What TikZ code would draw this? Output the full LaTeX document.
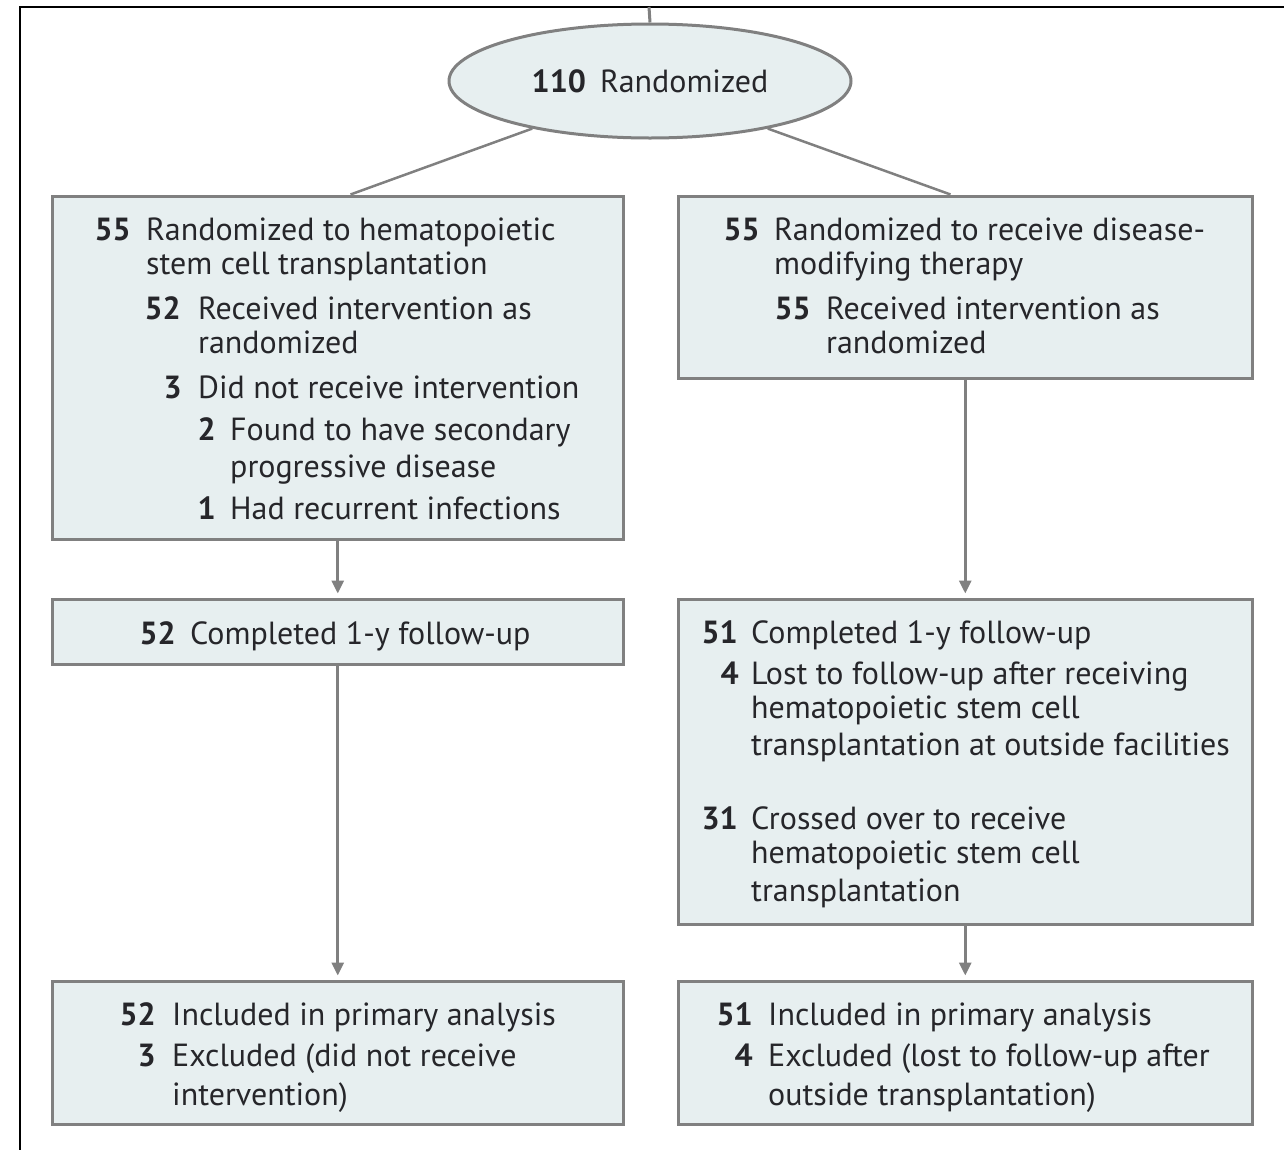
\documentclass[tikz,border=0pt]{standalone}
\usepackage{fontspec}
\setmainfont{PT Sans}
\usetikzlibrary{arrows.meta,shapes.geometric}
\definecolor{boxfill}{RGB}{231,239,240}
\definecolor{boxline}{RGB}{128,128,128}
\definecolor{inkc}{RGB}{38,38,42}
\tikzset{
  box/.style={draw=boxline, line width=3.5pt, fill=boxfill, anchor=north west, inner sep=0pt},
  conn/.style={draw=boxline, line width=3pt},
  arr/.style={conn, -{Triangle[width=12pt,length=13pt]}, shorten >=4pt},
  txt/.style={anchor=base west, inner sep=0pt, text=inkc, font=\fontsize{32}{34}\selectfont},
  num/.style={anchor=base east, inner sep=0pt, text=inkc, font=\fontsize{32}{34}\selectfont\bfseries},
}
\begin{document}
\begin{tikzpicture}[x=1pt,y=-1pt]
\useasboundingbox (0,0) rectangle (1284,1149);
% outer frame
\draw[line width=2.5pt] (20,1155) -- (20,7) -- (1290,7);
\coordinate (top) at (649,7);
% ellipse
\node[ellipse, draw=boxline, line width=3pt, fill=boxfill, minimum width=402pt, minimum height=114pt, inner sep=0pt, text=inkc, font=\fontsize{32}{34}\selectfont] (rand) at (650,81) {\textbf{110}\, Randomized};
% boxes
\node[box, minimum width=571pt, minimum height=343pt] (L1) at (50.5,194.5) {};
\node[box, minimum width=574pt, minimum height=182pt] (R1) at (676.5,194.5) {};
\node[box, minimum width=571pt, minimum height=65pt] (L2) at (50.5,597.5) {};
\node[box, minimum width=574pt, minimum height=325pt] (R2) at (676.5,597.5) {};
\node[box, minimum width=571pt, minimum height=143pt] (L3) at (50.5,979.5) {};
\node[box, minimum width=574pt, minimum height=143pt] (R3) at (676.5,979.5) {};
% connectors
\draw[conn] (top) -- (rand.north);
\draw[conn, line width=2.5pt] (rand.-158) -- ([xshift=300pt]L1.north west);
\draw[conn, line width=2.5pt] (rand.-22) -- ([xshift=274pt]R1.north west);
\draw[arr] (L1.south) -- (L2.north);
\draw[arr] (R1.south) -- (R2.north);
\draw[arr] (L2.south) -- (L3.north);
\draw[arr] (R2.south) -- (R3.north);
% L1 text
\node[num] (n1) at (131,240) {55};
\node[txt] (a1) at (146,240) {Randomized to hematopoietic};
\node[txt] (a2) at (146,274) {stem cell transplantation};
\node[num] (n2) at (181,319) {52};
\node[txt] (a3) at (198,319) {Received intervention as};
\node[txt] (a4) at (198,353) {randomized};
\node[num] (n3) at (182,398) {3};
\node[txt] (a5) at (198,398) {Did not receive intervention};
\node[num] (n4) at (216,440) {2};
\node[txt] (a6) at (230,440) {Found to have secondary};
\node[txt] (a7) at (230,477) {progressive disease};
\node[num] (n5) at (216,519) {1};
\node[txt] (a8) at (230,519) {Had recurrent infections};
% R1 text
\node[num] (n6) at (760,240) {55};
\node[txt] (b1) at (774,240) {Randomized to receive disease-};
\node[txt] (b2) at (774,274) {modifying therapy};
\node[num] (n7) at (811,319) {55};
\node[txt] (b3) at (826,319) {Received intervention as};
\node[txt] (b4) at (826,353) {randomized};
% L2 text
\node[num] (n8) at (176,644) {52};
\node[txt] (c1) at (190,644) {Completed 1-y follow-up};
% R2 text
\node[num] (n9) at (738,643) {51};
\node[txt] (d1) at (751,643) {Completed 1-y follow-up};
\node[num] (n10) at (739,684) {4};
\node[txt] (d2) at (751,684) {Lost to follow-up after receiving};
\node[txt] (d3) at (751,718) {hematopoietic stem cell};
\node[txt] (d4) at (751,755) {transplantation at outside facilities};
\node[num] (n11) at (738,829) {31};
\node[txt] (d5) at (751,829) {Crossed over to receive};
\node[txt] (d6) at (751,863) {hematopoietic stem cell};
\node[txt] (d7) at (751,901) {transplantation};
% L3 text
\node[num] (n12) at (156,1025) {52};
\node[txt] (e1) at (172,1025) {Included in primary analysis};
\node[num] (n13) at (156,1066) {3};
\node[txt] (e2) at (172,1066) {Excluded (did not receive};
\node[txt] (e3) at (172,1105) {intervention)};
% R3 text
\node[num] (n14) at (753,1025) {51};
\node[txt] (f1) at (768,1025) {Included in primary analysis};
\node[num] (n15) at (753,1066) {4};
\node[txt] (f2) at (768,1066) {Excluded (lost to follow-up after};
\node[txt] (f3) at (768,1105) {outside transplantation)};
\end{tikzpicture}
\end{document}
